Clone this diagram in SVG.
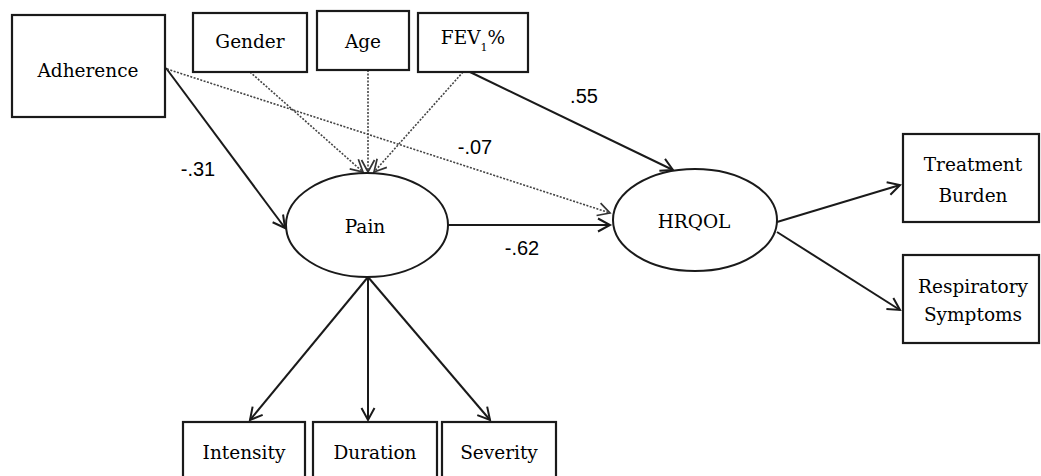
<svg xmlns="http://www.w3.org/2000/svg" width="1041" height="476" viewBox="0 0 1041 476">
<defs>
<marker id="arr" markerUnits="userSpaceOnUse" markerWidth="14" markerHeight="14" refX="12.5" refY="6.5" orient="auto" overflow="visible">
<path d="M0.5,0 L12.5,6.5 L0.5,13" fill="none" stroke="#1a1a1a" stroke-width="2"/>
</marker>
<marker id="arrd" markerUnits="userSpaceOnUse" markerWidth="14" markerHeight="14" refX="12.5" refY="6.5" orient="auto" overflow="visible">
<path d="M0.5,0 L12.5,6.5 L0.5,13" fill="none" stroke="#333" stroke-width="1.7"/>
</marker>
</defs>
<style>
.box{fill:#fff;stroke:#1a1a1a;stroke-width:2.2}
.ell{fill:#fff;stroke:#1a1a1a;stroke-width:2}
.t{font-family:"DejaVu Serif","Liberation Serif",serif;font-size:18.5px;fill:#000;text-anchor:middle}
.lbl{font-family:"Liberation Sans",Arial,sans-serif;font-size:20px;fill:#000;text-anchor:middle}
.solid{stroke:#1a1a1a;stroke-width:2;fill:none;marker-end:url(#arr)}
.dot{stroke:#444;stroke-width:1.6;stroke-dasharray:2 1.5;fill:none;marker-end:url(#arrd)}
</style>
<rect width="1041" height="476" fill="#fff"/>
<g id="connectors">
<line class="solid" x1="166" y1="68" x2="285" y2="228"/>
<line class="dot" x1="167" y1="69" x2="610" y2="213"/>
<line class="dot" x1="250" y1="72" x2="363" y2="172"/>
<line class="dot" x1="368" y1="70" x2="368" y2="172"/>
<line class="dot" x1="463" y1="72" x2="374" y2="172"/>
<line class="solid" x1="470" y1="72" x2="673" y2="170"/>
<line class="solid" x1="448" y1="225" x2="610" y2="225"/>
<line class="solid" x1="777" y1="222" x2="900" y2="185"/>
<line class="solid" x1="777" y1="232" x2="900" y2="310"/>
<line class="solid" x1="368" y1="277" x2="250" y2="420"/>
<line class="solid" x1="368" y1="277" x2="368" y2="420"/>
<line class="solid" x1="368" y1="277" x2="490" y2="420"/>
<text class="lbl" x="198" y="176">-.31</text>
<text class="lbl" x="475" y="154">-.07</text>
<text class="lbl" x="584" y="103">.55</text>
<text class="lbl" x="522" y="255">-.62</text>
</g>
<g id="adherence"><rect class="box" x="12" y="15" width="153" height="102"/><text class="t" x="88" y="77">Adherence</text></g>
<g id="gender"><rect class="box" x="193" y="13" width="114" height="59"/><text class="t" x="250" y="48">Gender</text></g>
<g id="age"><rect class="box" x="317" y="11" width="92" height="59"/><text class="t" x="363" y="48">Age</text></g>
<g id="fev"><rect class="box" x="418" y="13" width="110" height="59"/><text class="t" x="473" y="44">FEV<tspan font-size="11" dy="7">1</tspan><tspan dy="-7">%</tspan></text></g>
<g id="pain"><ellipse class="ell" cx="367" cy="225" rx="81" ry="52"/><text class="t" x="365" y="233">Pain</text></g>
<g id="hrqol"><ellipse class="ell" cx="695" cy="220" rx="82" ry="51"/><text class="t" x="694" y="228">HRQOL</text></g>
<g id="treatment"><rect class="box" x="903" y="134" width="136" height="88"/><text class="t" x="973" y="171">Treatment</text><text class="t" x="973" y="202">Burden</text></g>
<g id="respiratory"><rect class="box" x="903" y="255" width="136" height="88"/><text class="t" x="973" y="293">Respiratory</text><text class="t" x="973" y="321">Symptoms</text></g>
<g id="intensity"><rect class="box" x="183" y="422" width="122" height="60"/><text class="t" x="244" y="459">Intensity</text></g>
<g id="duration"><rect class="box" x="313" y="422" width="124" height="60"/><text class="t" x="375" y="459">Duration</text></g>
<g id="severity"><rect class="box" x="442" y="422" width="114" height="60"/><text class="t" x="499" y="459">Severity</text></g>
</svg>
